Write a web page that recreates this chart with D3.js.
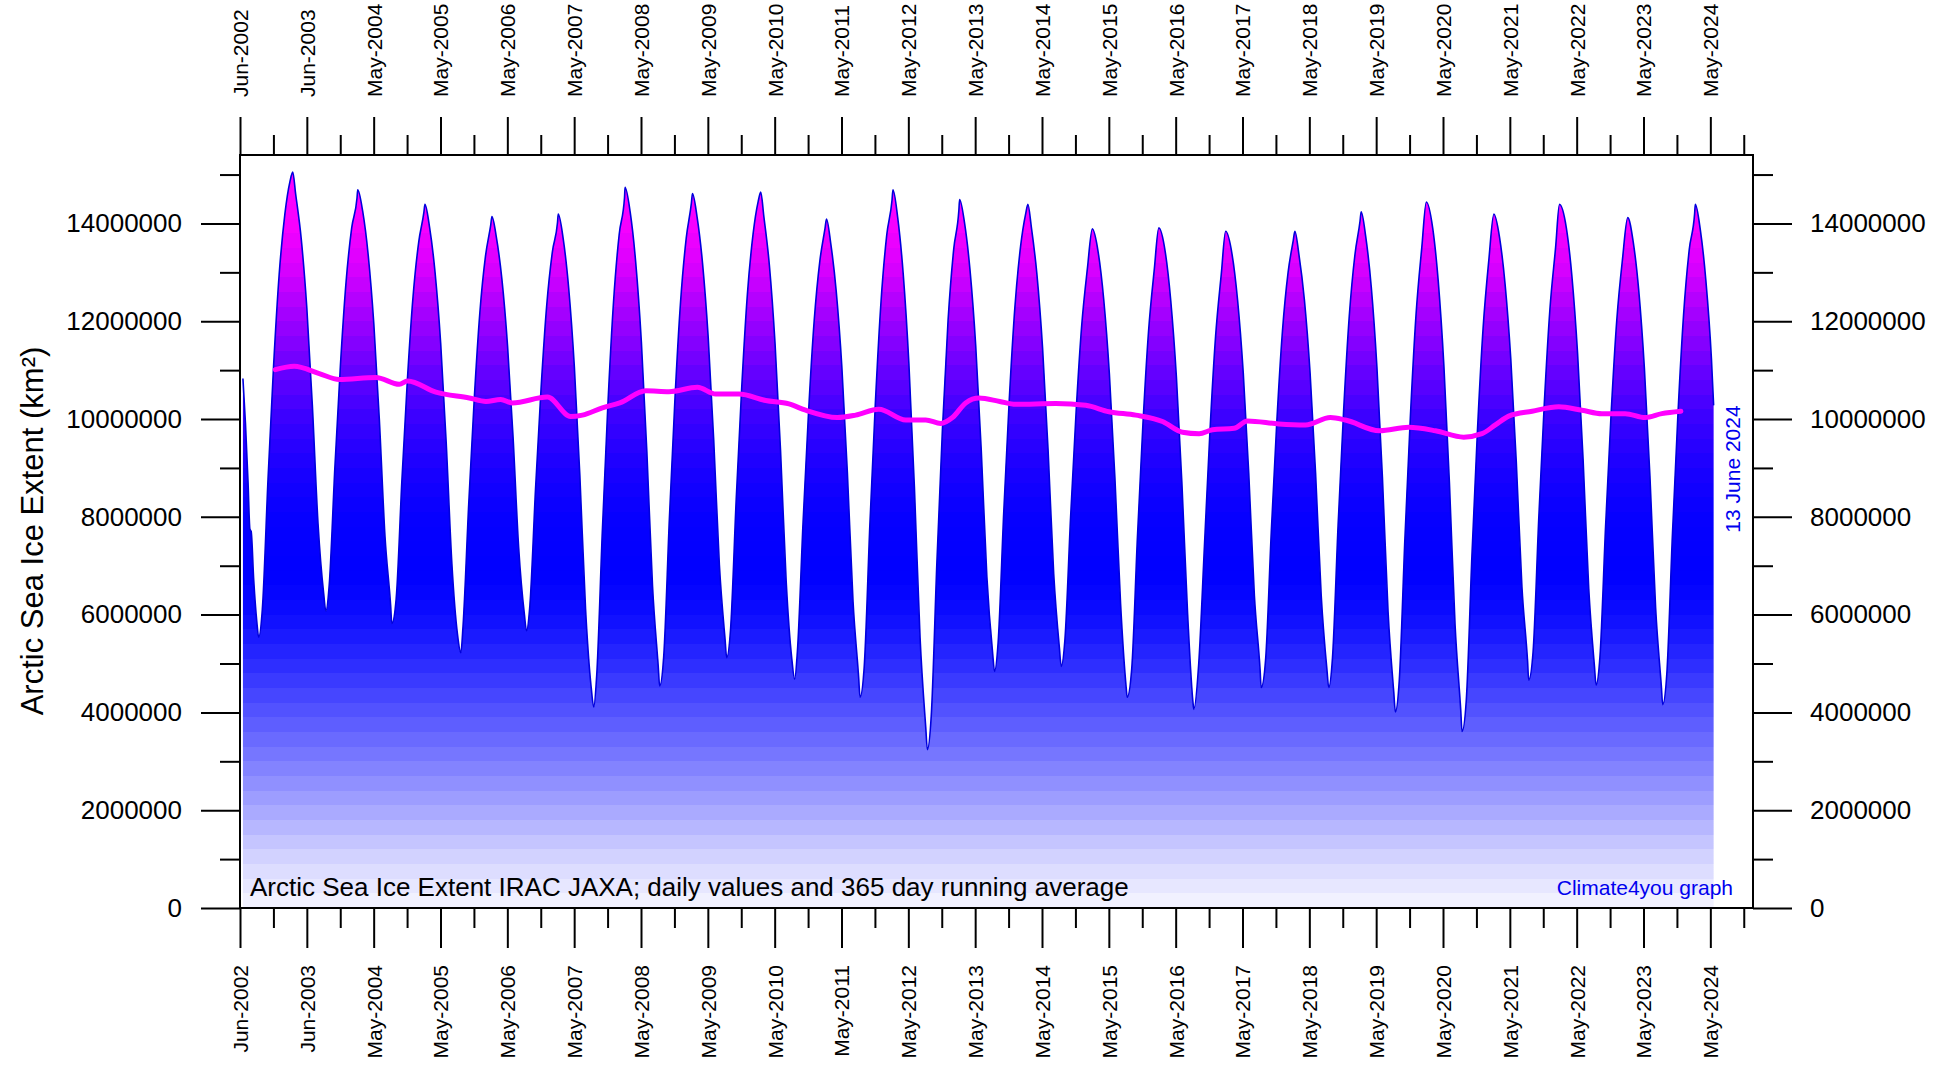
<!DOCTYPE html>
<html>
<head>
<meta charset="utf-8">
<script src="https://cdn.jsdelivr.net/npm/d3@7"></script>
<style>
  html, body { margin: 0; padding: 0; background: #fff; }
  svg { display: block; font-family: "Liberation Sans", Arial, sans-serif; }
</style>
</head>
<body>
<svg id="chart" width="1951" height="1065"></svg>
<script>
// daily sea ice extent (km2) at turning points and month starts
const dailyExtent = [
    ['2002-06-17', 10.83e6], ['2002-07-01', 9.90e6], ['2002-07-15', 8.70e6], ['2002-07-25', 7.75e6], ['2002-08-01', 7.70e6], ['2002-08-15', 6.70e6], ['2002-09-01', 5.85e6], ['2002-09-11', 5.54e6],
    ['2002-10-01', 6.11e6], ['2002-11-01', 8.77e6], ['2002-12-01', 11.06e6], ['2003-01-01', 12.96e6], ['2003-02-01', 14.19e6], ['2003-03-01', 14.86e6], ['2003-03-16', 15.05e6], ['2003-04-01', 14.60e6], ['2003-05-01', 13.70e6], ['2003-06-01', 12.27e6], ['2003-07-01', 10.29e6], ['2003-08-01', 7.87e6], ['2003-09-01', 6.43e6], ['2003-09-13', 6.07e6],
    ['2003-10-01', 6.59e6], ['2003-11-01', 9.00e6], ['2003-12-01', 11.07e6], ['2004-01-01', 12.79e6], ['2004-02-01', 13.91e6], ['2004-03-01', 14.52e6], ['2004-03-05', 14.69e6], ['2004-04-01', 14.25e6], ['2004-05-01', 13.36e6], ['2004-06-01', 11.94e6], ['2004-07-01', 9.99e6], ['2004-08-01', 7.59e6], ['2004-09-01', 6.17e6], ['2004-09-07', 5.82e6],
    ['2004-10-01', 6.33e6], ['2004-11-01', 8.73e6], ['2004-12-01', 10.79e6], ['2005-01-01', 12.50e6], ['2005-02-01', 13.62e6], ['2005-03-01', 14.22e6], ['2005-03-07', 14.39e6], ['2005-04-01', 13.93e6], ['2005-05-01', 13.01e6], ['2005-06-01', 11.55e6], ['2005-07-01', 9.53e6], ['2005-08-01', 7.05e6], ['2005-09-01', 5.59e6], ['2005-09-19', 5.22e6],
    ['2005-10-01', 5.76e6], ['2005-11-01', 8.25e6], ['2005-12-01', 10.39e6], ['2006-01-01', 12.18e6], ['2006-02-01', 13.34e6], ['2006-03-01', 13.96e6], ['2006-03-08', 14.14e6], ['2006-04-01', 13.72e6], ['2006-05-01', 12.87e6], ['2006-06-01', 11.51e6], ['2006-07-01', 9.65e6], ['2006-08-01', 7.36e6], ['2006-09-01', 6.01e6], ['2006-09-13', 5.67e6],
    ['2006-10-01', 6.18e6], ['2006-11-01', 8.57e6], ['2006-12-01', 10.61e6], ['2007-01-01', 12.32e6], ['2007-02-01', 13.42e6], ['2007-03-01', 14.02e6], ['2007-03-05', 14.19e6], ['2007-04-01', 13.69e6], ['2007-05-01', 12.68e6], ['2007-06-01', 11.07e6], ['2007-07-01', 8.85e6], ['2007-08-01', 6.13e6], ['2007-09-01', 4.51e6], ['2007-09-15', 4.11e6],
    ['2007-10-01', 4.75e6], ['2007-11-01', 7.72e6], ['2007-12-01', 10.28e6], ['2008-01-01', 12.40e6], ['2008-02-01', 13.78e6], ['2008-03-01', 14.53e6], ['2008-03-04', 14.74e6], ['2008-04-01', 14.23e6], ['2008-05-01', 13.21e6], ['2008-06-01', 11.58e6], ['2008-07-01', 9.33e6], ['2008-08-01', 6.58e6], ['2008-09-01', 4.95e6], ['2008-09-09', 4.54e6],
    ['2008-10-01', 5.14e6], ['2008-11-01', 7.96e6], ['2008-12-01', 10.38e6], ['2009-01-01', 12.39e6], ['2009-02-01', 13.70e6], ['2009-03-01', 14.41e6], ['2009-03-07', 14.61e6], ['2009-04-01', 14.14e6], ['2009-05-01', 13.19e6], ['2009-06-01', 11.67e6], ['2009-07-01', 9.58e6], ['2009-08-01', 7.02e6], ['2009-09-01', 5.50e6], ['2009-09-10', 5.12e6],
    ['2009-10-01', 5.69e6], ['2009-11-01', 8.36e6], ['2009-12-01', 10.64e6], ['2010-01-01', 12.55e6], ['2010-02-01', 13.78e6], ['2010-03-01', 14.45e6], ['2010-03-15', 14.64e6], ['2010-04-01', 14.14e6], ['2010-05-01', 13.15e6], ['2010-06-01', 11.55e6], ['2010-07-01', 9.36e6], ['2010-08-01', 6.67e6], ['2010-09-01', 5.08e6], ['2010-09-16', 4.68e6],
    ['2010-10-01', 5.24e6], ['2010-11-01', 7.88e6], ['2010-12-01', 10.14e6], ['2011-01-01', 12.02e6], ['2011-02-01', 13.24e6], ['2011-03-01', 13.90e6], ['2011-03-09', 14.09e6], ['2011-04-01', 13.60e6], ['2011-05-01', 12.62e6], ['2011-06-01', 11.06e6], ['2011-07-01', 8.91e6], ['2011-08-01', 6.27e6], ['2011-09-01', 4.70e6], ['2011-09-08', 4.31e6],
    ['2011-10-01', 4.93e6], ['2011-11-01', 7.84e6], ['2011-12-01', 10.33e6], ['2012-01-01', 12.41e6], ['2012-02-01', 13.76e6], ['2012-03-01', 14.48e6], ['2012-03-06', 14.69e6], ['2012-04-01', 14.12e6], ['2012-05-01', 12.97e6], ['2012-06-01', 11.14e6], ['2012-07-01', 8.62e6], ['2012-08-01', 5.53e6], ['2012-09-01', 3.70e6], ['2012-09-10', 3.24e6],
    ['2012-10-01', 3.92e6], ['2012-11-01', 7.07e6], ['2012-12-01', 9.77e6], ['2013-01-01', 12.02e6], ['2013-02-01', 13.48e6], ['2013-03-01', 14.27e6], ['2013-03-05', 14.49e6], ['2013-04-01', 14.01e6], ['2013-05-01', 13.04e6], ['2013-06-01', 11.50e6], ['2013-07-01', 9.38e6], ['2013-08-01', 6.77e6], ['2013-09-01', 5.23e6], ['2013-09-12', 4.84e6],
    ['2013-10-01', 5.41e6], ['2013-11-01', 8.09e6], ['2013-12-01', 10.38e6], ['2014-01-01', 12.29e6], ['2014-02-01', 13.53e6], ['2014-03-01', 14.20e6], ['2014-03-13', 14.39e6], ['2014-04-01', 13.92e6], ['2014-05-01', 12.97e6], ['2014-06-01', 11.46e6], ['2014-07-01', 9.38e6], ['2014-08-01', 6.83e6], ['2014-09-01', 5.32e6], ['2014-09-11', 4.94e6],
    ['2014-10-01', 5.48e6], ['2014-11-01', 7.98e6], ['2014-12-01', 10.13e6], ['2015-01-01', 11.92e6], ['2015-02-01', 13.08e6], ['2015-02-28', 13.89e6], ['2015-04-01', 13.41e6], ['2015-05-01', 12.45e6], ['2015-06-01', 10.92e6], ['2015-07-01', 8.81e6], ['2015-08-01', 6.23e6], ['2015-09-01', 4.50e6], ['2015-09-06', 4.31e6],
    ['2015-10-01', 4.89e6], ['2015-11-01', 7.57e6], ['2015-12-01', 9.88e6], ['2016-01-01', 11.80e6], ['2016-02-01', 13.05e6], ['2016-02-26', 13.91e6], ['2016-04-01', 13.42e6], ['2016-05-01', 12.43e6], ['2016-06-01', 10.86e6], ['2016-07-01', 8.69e6], ['2016-08-01', 6.03e6], ['2016-09-01', 4.15e6], ['2016-09-04', 4.06e6],
    ['2016-10-01', 5.00e6], ['2016-11-01', 7.39e6], ['2016-12-01', 9.73e6], ['2017-01-01', 11.69e6], ['2017-02-01', 12.96e6], ['2017-02-25', 13.84e6], ['2017-04-01', 13.37e6], ['2017-05-01', 12.44e6], ['2017-06-01', 10.95e6], ['2017-07-01', 8.90e6], ['2017-08-01', 6.38e6], ['2017-09-01', 4.88e6], ['2017-09-07', 4.51e6],
    ['2017-10-01', 5.07e6], ['2017-11-01', 7.68e6], ['2017-12-01', 9.92e6], ['2018-01-01', 11.79e6], ['2018-02-01', 13.00e6], ['2018-03-01', 13.65e6], ['2018-03-10', 13.84e6], ['2018-04-01', 13.37e6], ['2018-05-01', 12.44e6], ['2018-06-01', 10.95e6], ['2018-07-01', 8.90e6], ['2018-08-01', 6.38e6], ['2018-09-01', 4.88e6], ['2018-09-11', 4.51e6],
    ['2018-10-01', 5.09e6], ['2018-11-01', 7.82e6], ['2018-12-01', 10.15e6], ['2019-01-01', 12.10e6], ['2019-02-01', 13.36e6], ['2019-03-01', 14.05e6], ['2019-03-07', 14.24e6], ['2019-04-01', 13.73e6], ['2019-05-01', 12.71e6], ['2019-06-01', 11.07e6], ['2019-07-01', 8.82e6], ['2019-08-01', 6.06e6], ['2019-09-01', 4.42e6], ['2019-09-10', 4.01e6],
    ['2019-10-01', 4.64e6], ['2019-11-01', 7.56e6], ['2019-12-01', 10.06e6], ['2020-01-01', 12.15e6], ['2020-02-01', 13.50e6], ['2020-02-26', 14.44e6], ['2020-04-01', 13.90e6], ['2020-05-01', 12.82e6], ['2020-06-01', 11.08e6], ['2020-07-01', 8.70e6], ['2020-08-01', 5.78e6], ['2020-09-01', 4.04e6], ['2020-09-08', 3.61e6],
    ['2020-10-01', 4.24e6], ['2020-11-01', 7.21e6], ['2020-12-01', 9.75e6], ['2021-01-01', 11.86e6], ['2021-02-01', 13.24e6], ['2021-03-01', 14.19e6], ['2021-04-01', 13.71e6], ['2021-05-01', 12.76e6], ['2021-06-01', 11.24e6], ['2021-07-01', 9.14e6], ['2021-08-01', 6.57e6], ['2021-09-01', 5.04e6], ['2021-09-07', 4.66e6],
    ['2021-10-01', 5.24e6], ['2021-11-01', 7.97e6], ['2021-12-01', 10.30e6], ['2022-01-01', 12.25e6], ['2022-02-01', 13.51e6], ['2022-02-22', 14.39e6], ['2022-04-01', 13.90e6], ['2022-05-01', 12.92e6], ['2022-06-01', 11.34e6], ['2022-07-01', 9.18e6], ['2022-08-01', 6.53e6], ['2022-09-01', 4.95e6], ['2022-09-10', 4.56e6],
    ['2022-10-01', 5.13e6], ['2022-11-01', 7.81e6], ['2022-12-01', 10.10e6], ['2023-01-01', 12.02e6], ['2023-02-01', 13.26e6], ['2023-03-02', 14.12e6], ['2023-04-01', 13.62e6], ['2023-05-01', 12.63e6], ['2023-06-01', 11.03e6], ['2023-07-01', 8.84e6], ['2023-08-01', 6.15e6], ['2023-09-01', 4.56e6], ['2023-09-09', 4.16e6],
    ['2023-10-01', 4.77e6], ['2023-11-01', 7.64e6], ['2023-12-01', 10.09e6], ['2024-01-01', 12.14e6], ['2024-02-01', 13.47e6], ['2024-03-01', 14.19e6], ['2024-03-05', 14.39e6], ['2024-04-01', 13.88e6], ['2024-05-01', 12.86e6], ['2024-06-01', 11.23e6], ['2024-06-13', 10.28e6]
];

// 365 day running average (km2)
const runningAverage = [
    ['2002-12-11', 11.01e6], ['2003-03-24', 11.08e6], ['2003-08-08', 10.93e6], ['2003-11-25', 10.81e6], ['2004-06-12', 10.85e6], ['2004-10-18', 10.71e6], ['2004-12-02', 10.78e6],
    ['2005-05-06', 10.55e6], ['2005-11-04', 10.43e6], ['2006-02-03', 10.36e6], ['2006-04-25', 10.40e6], ['2006-06-28', 10.33e6], ['2007-01-05', 10.45e6], ['2007-05-12', 10.05e6],
    ['2007-07-15', 10.08e6], ['2007-11-01', 10.23e6], ['2008-02-04', 10.33e6], ['2008-06-25', 10.58e6], ['2008-10-30', 10.56e6], ['2009-04-03', 10.65e6], ['2009-07-12', 10.51e6],
    ['2009-11-16', 10.51e6], ['2010-04-11', 10.38e6], ['2010-08-16', 10.31e6], ['2010-11-15', 10.18e6], ['2011-05-07', 10.03e6], ['2011-08-15', 10.08e6], ['2011-12-20', 10.20e6],
    ['2012-05-15', 9.98e6], ['2012-09-01', 9.98e6], ['2012-11-22', 9.91e6], ['2013-01-25', 10.03e6], ['2013-04-07', 10.33e6], ['2013-06-19', 10.43e6], ['2013-10-10', 10.36e6],
    ['2014-01-05', 10.30e6], ['2014-08-12', 10.32e6], ['2015-01-23', 10.28e6], ['2015-05-30', 10.15e6], ['2015-10-23', 10.08e6], ['2016-03-17', 9.95e6], ['2016-07-04', 9.73e6],
    ['2016-10-03', 9.70e6], ['2016-12-15', 9.78e6], ['2017-04-12', 9.81e6], ['2017-06-24', 9.96e6], ['2017-12-12', 9.90e6], ['2018-05-07', 9.88e6], ['2018-09-20', 10.03e6],
    ['2018-12-11', 9.98e6], ['2019-06-15', 9.76e6], ['2019-11-22', 9.83e6], ['2020-04-16', 9.76e6], ['2020-09-17', 9.63e6], ['2020-12-26', 9.70e6], ['2021-03-09', 9.88e6],
    ['2021-05-21', 10.06e6], ['2021-09-26', 10.16e6], ['2022-02-18', 10.25e6], ['2022-06-25', 10.18e6], ['2022-10-12', 10.11e6], ['2023-02-16', 10.11e6], ['2023-06-05', 10.03e6],
    ['2023-09-04', 10.11e6], ['2023-12-17', 10.16e6]
];

// x ticks are 365 days apart, which is why they drift from Jun into May
const xTickDates = [
    '2002-06-01', '2003-06-01', '2004-05-31', '2005-05-31', '2006-05-31', '2007-05-31', '2008-05-30', '2009-05-30',
    '2010-05-30', '2011-05-30', '2012-05-29', '2013-05-29', '2014-05-29', '2015-05-29', '2016-05-28', '2017-05-28',
    '2018-05-28', '2019-05-28', '2020-05-27', '2021-05-27', '2022-05-27', '2023-05-27', '2024-05-26'
];
const xDomain = ['2002-06-01', '2025-01-14'];
const yTickValues = [0, 2e6, 4e6, 6e6, 8e6, 10e6, 12e6, 14e6];
const yDomain = [0, 15.4e6];

// fill colours by extent value (style only)
const fillStops = [
    [0, '#f6f6ff'], [1e6, '#d4d4ff'], [2e6, '#a8a8ff'], [3e6, '#7c7cff'], [4e6, '#5454ff'], [5e6, '#2c2cff'],
    [6e6, '#0c0cff'], [6.8e6, '#0000ff'], [8e6, '#0600ff'], [9e6, '#1a00ff'], [10e6, '#3a00ff'], [11e6, '#6600ff'],
    [12e6, '#9c00ff'], [13e6, '#d400ff'], [14e6, '#f800ff'], [15.4e6, '#ff00ff']
];

const plot = { left: 240, right: 1753, top: 155, bottom: 908 };
const parse = d3.utcParse('%Y-%m-%d');

const extent = dailyExtent.map(d => ({ date: parse(d[0]), value: d[1] }));
const average = runningAverage.map(d => ({ date: parse(d[0]), value: d[1] }));
const majorTicks = xTickDates.map(parse);
const minorTicks = majorTicks.map(d => d3.utcHour.offset(d, 182 * 24 + 12));

const x = d3.scaleUtc()
    .domain(xDomain.map(parse))
    .range([plot.left, plot.right]);

const y = d3.scaleLinear()
    .domain(yDomain)
    .range([plot.bottom, plot.top]);

const svg = d3.select('#chart');

// banded vertical gradient, like the original
const colorOf = d3.scaleLinear()
    .domain(fillStops.map(s => s[0]))
    .range(fillStops.map(s => s[1]));

const grad = svg.append('defs').append('linearGradient')
    .attr('id', 'iceFill')
    .attr('gradientUnits', 'userSpaceOnUse')
    .attr('x1', 0).attr('x2', 0)
    .attr('y1', y(yDomain[0])).attr('y2', y(yDomain[1]));

const band = 0.3e6;
for (let v = 0; v < yDomain[1]; v += band) {
    const c = colorOf(Math.min(v + band / 2, yDomain[1]));
    grad.append('stop').attr('offset', v / yDomain[1]).attr('stop-color', c);
    grad.append('stop').attr('offset', Math.min(v + band, yDomain[1]) / yDomain[1]).attr('stop-color', c);
}

const area = d3.area()
    .x(d => x(d.date))
    .y0(y(0))
    .y1(d => y(d.value))
    .curve(d3.curveMonotoneX);

const line = d3.line()
    .x(d => x(d.date))
    .y(d => y(d.value))
    .curve(d3.curveMonotoneX);

svg.append('path')
    .datum(extent)
    .attr('d', area)
    .attr('fill', 'url(#iceFill)');

svg.append('path')
    .datum(extent)
    .attr('d', line)
    .attr('fill', 'none')
    .attr('stroke', '#0000dd')
    .attr('stroke-width', 1.6);

svg.append('path')
    .datum(average)
    .attr('d', line)
    .attr('fill', 'none')
    .attr('stroke', '#ff00ff')
    .attr('stroke-width', 5)
    .attr('stroke-linecap', 'round');

// frame
svg.append('rect')
    .attr('x', plot.left).attr('y', plot.top)
    .attr('width', plot.right - plot.left).attr('height', plot.bottom - plot.top)
    .attr('fill', 'none').attr('stroke', '#000').attr('stroke-width', 2);

const fmtDate = d3.utcFormat('%b-%Y');
const fmtNum = d3.format('d');

function styleAxis(g) {
    g.select('.domain').remove();
    g.selectAll('line').attr('stroke', '#000').attr('stroke-width', 2);
    g.selectAll('text').attr('fill', '#000');
}

// left / right value axes
svg.append('g')
    .attr('transform', `translate(${plot.left},0)`)
    .call(d3.axisLeft(y).tickValues(yTickValues).tickSize(39).tickPadding(19).tickFormat(fmtNum))
    .attr('font-size', 26).attr('font-family', null)
    .call(styleAxis);

svg.append('g')
    .attr('transform', `translate(${plot.left},0)`)
    .call(d3.axisLeft(y).tickValues(d3.range(1e6, 15.5e6, 2e6)).tickSize(20).tickFormat(''))
    .call(styleAxis);

svg.append('g')
    .attr('transform', `translate(${plot.right},0)`)
    .call(d3.axisRight(y).tickValues(yTickValues).tickSize(39).tickPadding(18).tickFormat(fmtNum))
    .attr('font-size', 26).attr('font-family', null)
    .call(styleAxis);

svg.append('g')
    .attr('transform', `translate(${plot.right},0)`)
    .call(d3.axisRight(y).tickValues(d3.range(1e6, 15.5e6, 2e6)).tickSize(20).tickFormat(''))
    .call(styleAxis);

// top / bottom date axes, labels turned on their side
svg.append('g')
    .attr('transform', `translate(0,${plot.top})`)
    .call(d3.axisTop(x).tickValues(majorTicks).tickSize(38).tickFormat(fmtDate))
    .attr('font-size', 21).attr('font-family', null)
    .call(styleAxis)
    .selectAll('text')
    .attr('transform', 'rotate(-90)')
    .attr('x', 58).attr('y', 0).attr('dy', '0.35em')
    .attr('text-anchor', 'start');

svg.append('g')
    .attr('transform', `translate(0,${plot.top})`)
    .call(d3.axisTop(x).tickValues(minorTicks).tickSize(20).tickFormat(''))
    .call(styleAxis);

svg.append('g')
    .attr('transform', `translate(0,${plot.bottom})`)
    .call(d3.axisBottom(x).tickValues(majorTicks).tickSize(40).tickFormat(fmtDate))
    .attr('font-size', 21).attr('font-family', null)
    .call(styleAxis)
    .selectAll('text')
    .attr('transform', 'rotate(-90)')
    .attr('x', -57).attr('y', 0).attr('dy', '0.35em')
    .attr('text-anchor', 'end');

svg.append('g')
    .attr('transform', `translate(0,${plot.bottom})`)
    .call(d3.axisBottom(x).tickValues(minorTicks).tickSize(20).tickFormat(''))
    .call(styleAxis);

// texts
svg.append('text')
    .attr('transform', 'translate(43,531) rotate(-90)')
    .attr('text-anchor', 'middle')
    .attr('font-size', 31)
    .attr('fill', '#000')
    .text('Arctic Sea Ice Extent (km²)');

svg.append('text')
    .attr('x', 250).attr('y', 896)
    .attr('font-size', 26)
    .attr('fill', '#000')
    .text('Arctic Sea Ice Extent IRAC JAXA; daily values and 365 day running average');

svg.append('text')
    .attr('x', 1733).attr('y', 895)
    .attr('text-anchor', 'end')
    .attr('font-size', 21)
    .attr('fill', '#0000ee')
    .text('Climate4you graph');

svg.append('text')
    .attr('transform', 'translate(1740,469) rotate(-90)')
    .attr('text-anchor', 'middle')
    .attr('font-size', 21)
    .attr('fill', '#0000ee')
    .text('13 June 2024');
</script>
</body>
</html>
